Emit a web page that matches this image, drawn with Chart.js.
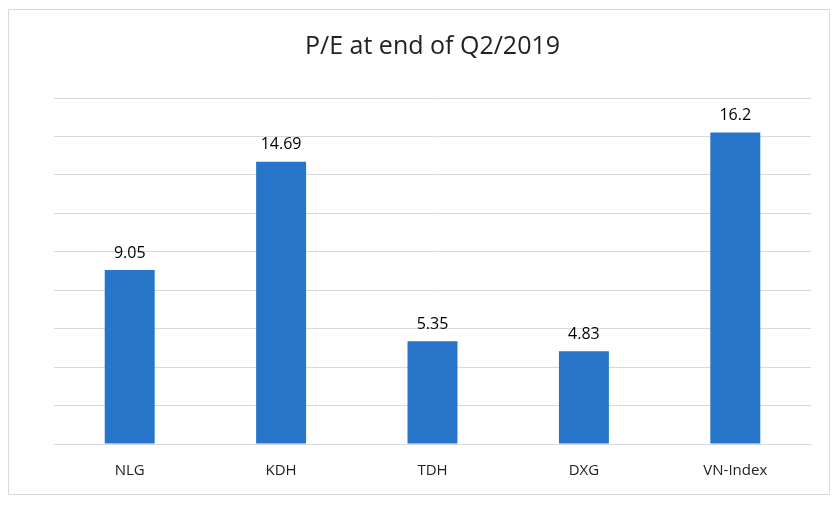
<!DOCTYPE html>
<html><head><script src="https://cdn.jsdelivr.net/npm/chart.js@4"></script>
<style>body{margin:0;background:#fff}#w{position:absolute;left:8px;top:9px;width:822px;height:486px;border:1px solid #d9d9d9;box-sizing:border-box}</style>
</head><body><div id="w"><canvas id="c"></canvas></div>
<script>
const categories=["NLG","KDH","TDH","DXG","VN-Index"];
const values=[9.05,14.69,5.35,4.83,16.2];
const labels=["9.05","14.69","5.35","4.83","16.2"];
const lbl={id:'lbl',afterDatasetsDraw(ch){const c=ch.ctx;c.save();c.font='16px "Open Sans"';c.fillStyle='#000';c.textAlign='center';c.textBaseline='bottom';
ch.getDatasetMeta(0).data.forEach((b,i)=>c.fillText(labels[i],b.x,b.y-9));c.restore();}};
new Chart(document.getElementById('c'),{type:'bar',data:{labels:categories,datasets:[{data:values,backgroundColor:'#2775c8',barPercentage:0.33,categoryPercentage:1}]},
options:{responsive:true,maintainAspectRatio:false,animation:false,layout:{padding:{left:45,right:18,bottom:4,top:0}},
plugins:{legend:{display:false},tooltip:{enabled:false},title:{display:true,text:'P/E at end of Q2/2019',color:'#222',font:{family:'Open Sans',size:25,weight:'normal'},padding:{top:22,bottom:36}}},
scales:{y:{min:0,max:18,ticks:{stepSize:2,display:false},border:{display:false},grid:{color:'#d9d9d9',drawTicks:false}},
x:{ticks:{color:'#222',font:{family:'Open Sans',size:15},padding:10},grid:{display:false},border:{color:'#d9d9d9'}}}},plugins:[lbl]});
</script></body></html>
